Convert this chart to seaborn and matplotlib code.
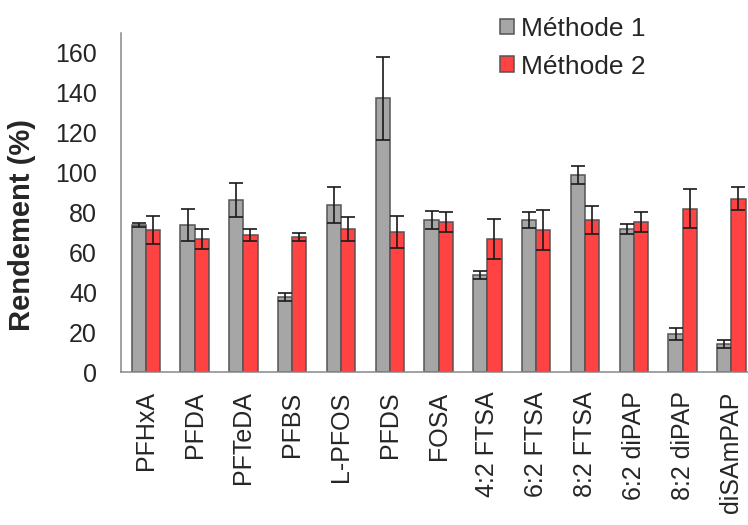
import pandas as pd
import matplotlib.pyplot as plt
import seaborn as sns
from matplotlib.ticker import FixedLocator

compounds = ['PFHxA', 'PFDA', 'PFTeDA', 'PFBS', 'L-PFOS', 'PFDS', 'FOSA',
             '4:2 FTSA', '6:2 FTSA', '8:2 FTSA', '6:2 diPAP', '8:2 diPAP', 'diSAmPAP']
methode1 = [73.6, 73.6, 86.2, 37.7, 83.7, 137.2, 76.1, 48.5, 76.1, 98.8, 71.9, 19.1, 14.1]
methode1_err = [1, 8, 8.4, 2, 9, 21, 4.5, 2, 4, 4.6, 2.5, 3, 2]
methode2 = [71.1, 66.9, 68.6, 67.8, 71.9, 70.3, 75.3, 66.9, 71.1, 76.1, 75.3, 82.0, 87.0]
methode2_err = [7, 5, 2.9, 2, 6, 8, 5, 10, 10, 7, 5, 10, 6]
methods = ['Méthode 1', 'Méthode 2']

df = pd.DataFrame({
    'compose': compounds * 2,
    'rendement': methode1 + methode2,
    'methode': [methods[0]] * len(compounds) + [methods[1]] * len(compounds),
})

sns.set_style('white')
plt.rcParams['font.family'] = ['Liberation Sans', 'DejaVu Sans']

fig = plt.figure(figsize=(7.48, 5.25), dpi=100)
ax = fig.add_axes([0.1623, 0.2914, 0.8481, 0.6457])

sns.barplot(data=df, x='compose', y='rendement', hue='methode', hue_order=methods,
            palette=['#A6A6A6', '#FF4242'], saturation=1, width=0.58,
            edgecolor='#555555', linewidth=1.1, errorbar=None, legend=False, ax=ax)

# error bars on top of each bar
for cont, vals, errs in zip(ax.containers, [methode1, methode2], [methode1_err, methode2_err]):
    xs = [p.get_x() + p.get_width() / 2 for p in cont.patches]
    ax.errorbar(xs, vals, yerr=errs, fmt='none', ecolor='#1a1a1a',
                elinewidth=1.2, capsize=4.7, capthick=1.2)

ax.set_ylim(0, 170)
ax.set_yticks(range(0, 161, 20))
ax.set_xlim(-0.5, len(compounds) - 0.5)

ax.xaxis.set_minor_locator(FixedLocator([i - 0.5 for i in range(len(compounds) + 1)]))
ax.tick_params(axis='x', which='major', length=0, pad=14, labelsize=18, labelrotation=90)
ax.tick_params(axis='x', which='minor', length=6, width=1.1, color='#888888', direction='out')
ax.tick_params(axis='y', length=6.5, width=1.1, color='#888888', direction='out',
               pad=11, labelsize=18)
for lab in ax.get_xticklabels():
    lab.set_verticalalignment('top')

for s in ['top', 'right']:
    ax.spines[s].set_visible(False)
for s in ['left', 'bottom']:
    ax.spines[s].set_color('#888888')
    ax.spines[s].set_linewidth(1.1)

ax.set_xlabel('')
ax.set_ylabel('Rendement (%)', fontsize=21, fontweight='bold')
ax.yaxis.set_label_coords(-0.1346, 0.434)

ax.legend(handles=list(ax.containers), labels=methods, loc='upper left',
          bbox_to_anchor=(0.668, 0.968), bbox_transform=fig.transFigure,
          frameon=False, fontsize=19, handlelength=0.55, handleheight=0.55,
          handletextpad=0.25, labelspacing=0.52, borderpad=0, borderaxespad=0)

fig.savefig('out.png', dpi=100)
